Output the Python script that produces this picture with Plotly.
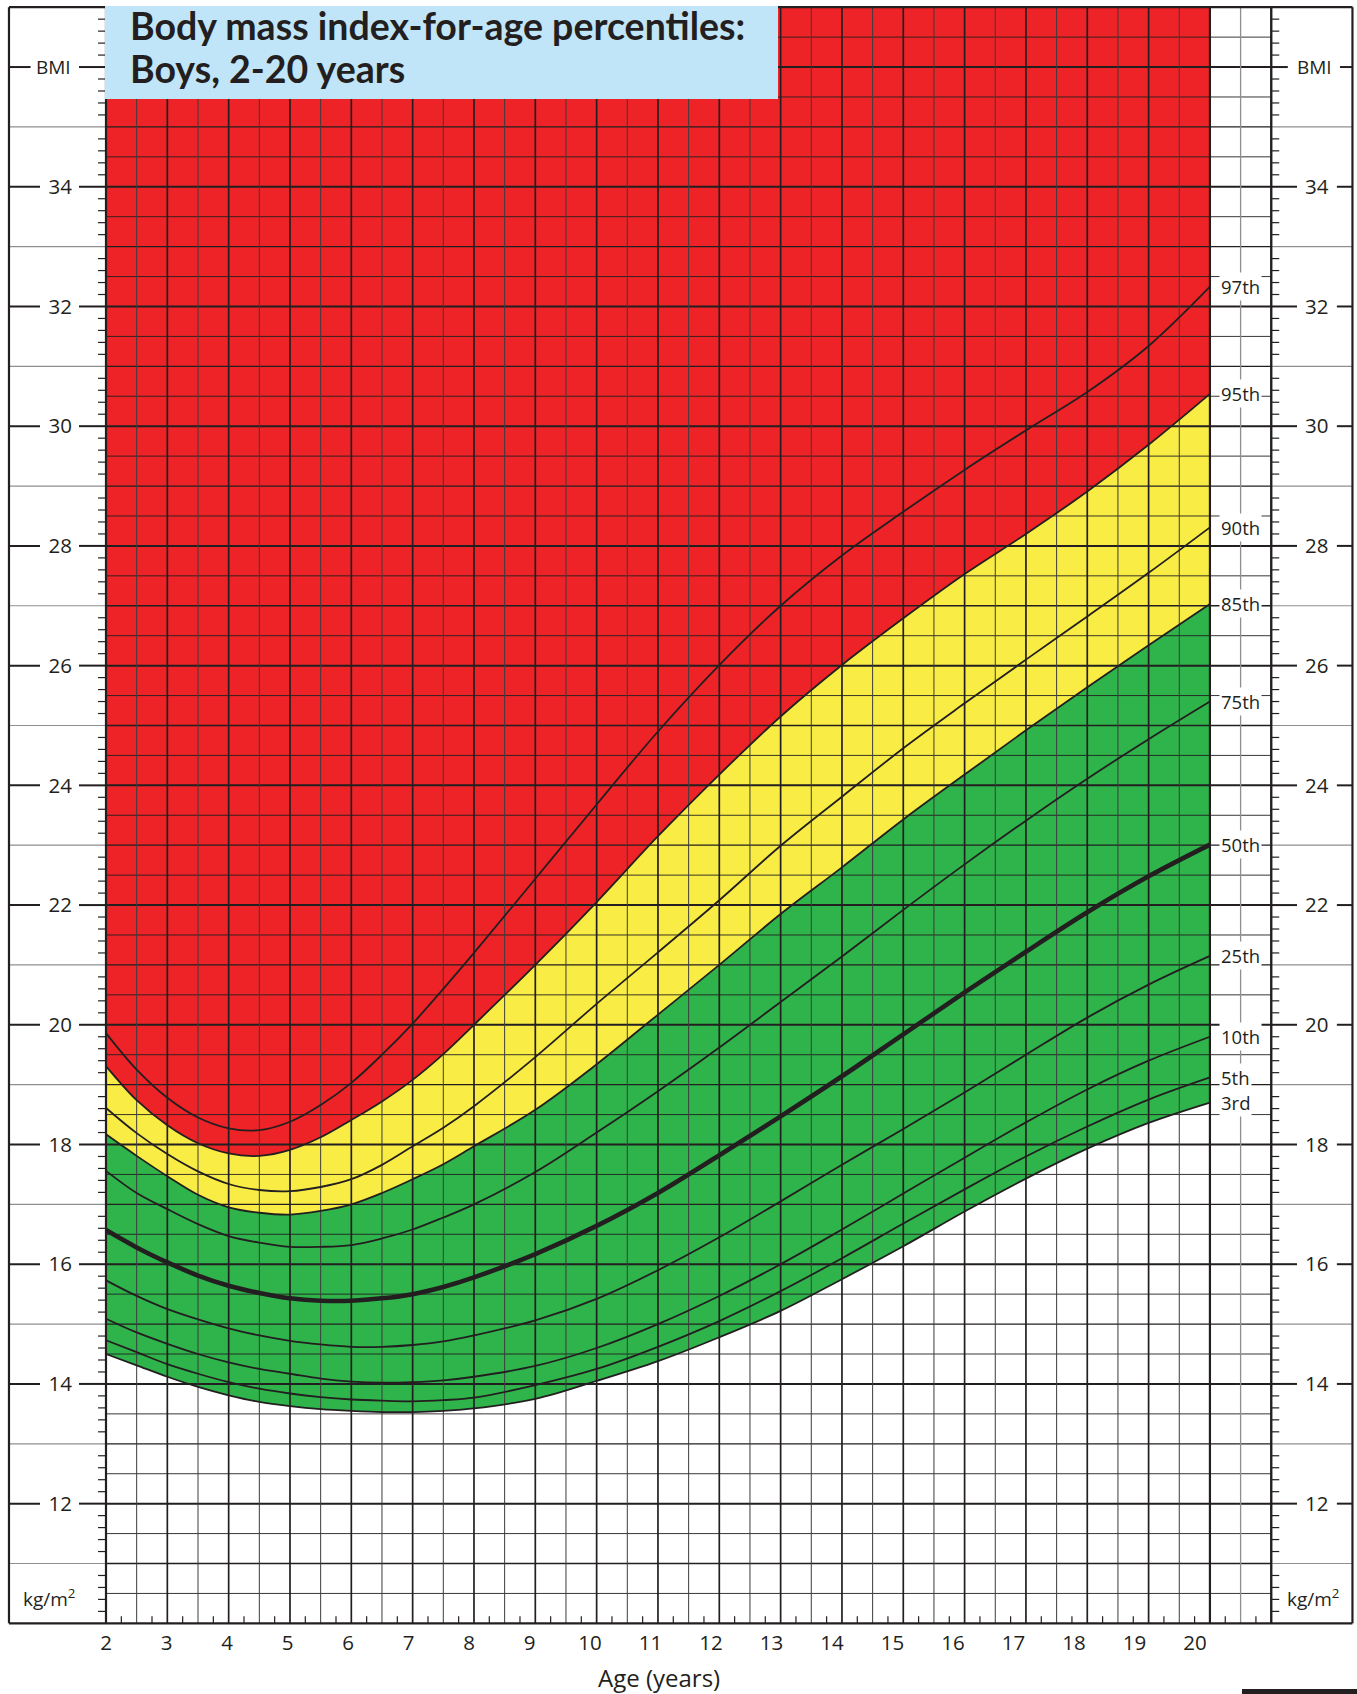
import plotly.graph_objects as go

# ---------------- data ----------------
ages = [2, 2.5, 3, 3.5, 4, 4.5, 5, 5.5, 6, 6.5, 7, 7.5, 8,
        9, 10, 11, 12, 13, 14, 15, 16, 17, 18, 19, 20]

p97 = [19.86, 19.25, 18.78, 18.45, 18.27, 18.24, 18.38, 18.66, 19.03, 19.50, 20.02, 20.60, 21.20,
       22.44, 23.68, 24.90, 26.01, 27.00, 27.84, 28.57, 29.27, 29.93, 30.57, 31.34, 32.33]
p95 = [19.31, 18.74, 18.32, 18.02, 17.85, 17.81, 17.91, 18.12, 18.41, 18.72, 19.08, 19.51, 20.00,
       21.00, 22.05, 23.15, 24.18, 25.15, 26.01, 26.79, 27.53, 28.20, 28.91, 29.69, 30.54]
p90 = [18.61, 18.19, 17.84, 17.55, 17.34, 17.24, 17.22, 17.29, 17.42, 17.66, 17.97, 18.28, 18.64,
       19.46, 20.35, 21.21, 22.08, 22.99, 23.81, 24.62, 25.37, 26.10, 26.82, 27.55, 28.31]
p85 = [18.17, 17.81, 17.47, 17.16, 16.95, 16.86, 16.83, 16.89, 17.00, 17.19, 17.42, 17.67, 17.97,
       18.58, 19.34, 20.17, 21.00, 21.85, 22.63, 23.43, 24.18, 24.92, 25.64, 26.34, 27.03]
p75 = [17.56, 17.19, 16.92, 16.67, 16.47, 16.36, 16.29, 16.29, 16.32, 16.43, 16.58, 16.78, 17.00,
       17.54, 18.20, 18.89, 19.62, 20.38, 21.14, 21.92, 22.68, 23.41, 24.11, 24.77, 25.40]
p50 = [16.57, 16.28, 16.03, 15.81, 15.64, 15.52, 15.43, 15.39, 15.39, 15.43, 15.50, 15.62, 15.78,
       16.17, 16.64, 17.19, 17.82, 18.47, 19.14, 19.84, 20.54, 21.22, 21.88, 22.48, 23.01]
p25 = [15.73, 15.47, 15.25, 15.08, 14.93, 14.81, 14.72, 14.66, 14.62, 14.62, 14.65, 14.71, 14.81,
       15.06, 15.42, 15.90, 16.45, 17.05, 17.66, 18.26, 18.87, 19.50, 20.12, 20.67, 21.15]
p10 = [15.09, 14.86, 14.67, 14.50, 14.36, 14.25, 14.17, 14.09, 14.04, 14.02, 14.03, 14.06, 14.12,
       14.30, 14.60, 15.00, 15.47, 16.00, 16.58, 17.18, 17.78, 18.37, 18.92, 19.40, 19.80]
p5 = [14.73, 14.53, 14.33, 14.17, 14.03, 13.92, 13.84, 13.78, 13.74, 13.72, 13.71, 13.73, 13.77,
      13.98, 14.25, 14.62, 15.05, 15.55, 16.10, 16.68, 17.25, 17.80, 18.30, 18.75, 19.12]
p3 = [14.50, 14.31, 14.12, 13.95, 13.81, 13.70, 13.63, 13.58, 13.55, 13.53, 13.53, 13.55, 13.59,
      13.75, 14.05, 14.38, 14.78, 15.22, 15.75, 16.30, 16.88, 17.43, 17.93, 18.36, 18.70]

percentile_labels = ["3rd", "5th", "10th", "25th", "50th", "75th", "85th", "90th", "95th", "97th"]
percentile_series = [p3, p5, p10, p25, p50, p75, p85, p90, p95, p97]

bmi_tick_vals = [12, 14, 16, 18, 20, 22, 24, 26, 28, 30, 32, 34]
bmi_tick_text = [str(v) for v in bmi_tick_vals]
age_tick_vals = list(range(2, 21))
age_tick_text = [str(a) for a in age_tick_vals]
unit_label_bmi = 36

title_lines = ["Body mass index-for-age percentiles:", "Boys, 2-20 years"]

# ---------------- styling / layout constants ----------------
RED, YELLOW, GREEN = "#ED2327", "#F8EC45", "#2FB34B"
BLUE = "#C1E5F8"
INK = "#231F20"
GRAY = "#8F8F8F"
W, H = 1357, 1694

X_MIN, X_MAX = 0.2716, 22.398      # main age axis (grid)
X2_MIN, X2_MAX = 0.248, 22.678     # age tick-label axis
Y_MIN, Y_MAX = 8.82, 37.12

BMI_BOT, BMI_TOP = 10, 37
FRAME_L, FRAME_R = 0.418, 22.324
GRID_L, GRID_R, AXIS_R = ages[0], ages[-1], 21
SMOOTH = 1.0

fig = go.Figure()

# ---------------- coloured zones ----------------
spl = dict(shape="spline", smoothing=SMOOTH, width=0)
fig.add_trace(go.Scatter(x=ages, y=p3, mode="lines", line=dict(spl, color=GREEN),
                         hoverinfo="skip", showlegend=False))
fig.add_trace(go.Scatter(x=ages, y=p85, mode="lines", line=dict(spl, color=GREEN), fill="tonexty",
                         fillcolor=GREEN, hoverinfo="skip", showlegend=False))
fig.add_trace(go.Scatter(x=ages, y=p95, mode="lines", line=dict(spl, color=YELLOW), fill="tonexty",
                         fillcolor=YELLOW, hoverinfo="skip", showlegend=False))
fig.add_trace(go.Scatter(x=ages, y=[BMI_TOP] * len(ages), mode="lines", line=dict(width=0, color=RED),
                         fill="tonexty", fillcolor=RED, hoverinfo="skip", showlegend=False))


def add_segments(segs, color, width):
    xs, ys = [], []
    for x0, y0, x1, y1 in segs:
        xs += [x0, x1, None]
        ys += [y0, y1, None]
    fig.add_trace(go.Scatter(x=xs, y=ys, mode="lines", line=dict(color=color, width=width),
                             hoverinfo="skip", showlegend=False))


# ---------------- grid ----------------
halves = [BMI_BOT + 0.5 * k for k in range(1, int((BMI_TOP - BMI_BOT) * 2) + 1)]
even_h = [b for b in halves if b == int(b) and int(b) % 2 == 0]
odd_h = [b for b in halves if b == int(b) and int(b) % 2 == 1]
half_h = [b for b in halves if b != int(b)]

add_segments([(GRID_L, b, AXIS_R, b) for b in half_h], INK, 0.9)
add_segments([(GRID_L, b, AXIS_R, b) for b in odd_h], INK, 1.3)
add_segments([(GRID_L, b, AXIS_R, b) for b in even_h], INK, 2.0)

age_lines = [GRID_L + 0.5 * k for k in range(0, int((AXIS_R - GRID_L) * 2) + 1)]
add_segments([(a, BMI_BOT, a, BMI_TOP) for a in age_lines if a != int(a) and a < GRID_R], "#3C3C3C", 1.0)
add_segments([(a, BMI_BOT, a, BMI_TOP) for a in age_lines if a != int(a) and a > GRID_R], GRAY, 1.3)
add_segments([(a, BMI_BOT, a, BMI_TOP) for a in age_lines if a == int(a)], INK, 1.7)

# margins: odd BMI thin gray lines, even BMI lines with gaps for labels
add_segments([(FRAME_L, b, GRID_L, b) for b in odd_h] +
             [(AXIS_R, b, FRAME_R, b) for b in odd_h], GRAY, 1.2)
segs = []
for b in even_h:
    if b in bmi_tick_vals or b == unit_label_bmi:
        lg = 0.77 if b == unit_label_bmi else 0.924
        rg0, rg1 = (21.27, 22.12) if b == unit_label_bmi else (21.42, 22.07)
        segs += [(FRAME_L, b, lg, b), (1.56, b, GRID_L, b), (AXIS_R, b, rg0, b), (rg1, b, FRAME_R, b)]
    else:
        segs += [(FRAME_L, b, GRID_L, b), (AXIS_R, b, FRAME_R, b)]
add_segments(segs, INK, 2.0)

# minor ticks every 0.2 BMI
minor = [round(BMI_BOT + 0.2 * k, 1) for k in range(1, int((BMI_TOP - BMI_BOT) * 5))]
minor = [m for m in minor if abs(m - round(m)) > 1e-6]
add_segments([(GRID_L - 0.13, m, GRID_L, m) for m in minor] +
             [(AXIS_R, m, AXIS_R + 0.13, m) for m in minor], INK, 1.2)
# quarter-year ticks along the bottom
quarters = [GRID_L + 0.25 + 0.5 * k for k in range(int((AXIS_R - GRID_L) * 2))]
add_segments([(q, BMI_BOT, q, BMI_BOT + 0.117) for q in quarters], INK, 1.2)

# outer frame
add_segments([(FRAME_L, BMI_BOT, FRAME_R, BMI_BOT), (FRAME_L, BMI_BOT, FRAME_L, BMI_TOP),
              (FRAME_R, BMI_BOT, FRAME_R, BMI_TOP), (FRAME_L, BMI_TOP, FRAME_R, BMI_TOP),
              (GRID_L, BMI_BOT, GRID_L, BMI_TOP), (GRID_R, BMI_BOT, GRID_R, BMI_TOP),
              (AXIS_R, BMI_BOT, AXIS_R, BMI_TOP)], INK, 2.2)

# ---------------- percentile curves ----------------
for name, ser in zip(percentile_labels, percentile_series):
    wd = 4.6 if name == "50th" else 1.8
    fig.add_trace(go.Scatter(x=ages, y=ser, mode="lines", name=name,
                             line=dict(color=INK, width=wd, shape="spline", smoothing=SMOOTH),
                             hoverinfo="skip", showlegend=False))
    fig.add_annotation(x=ages[-1] + 0.14, y=ser[-1], xref="x", yref="y", text=name,
                       showarrow=False, xanchor="left", yanchor="middle", bgcolor="white",
                       borderpad=1, font=dict(family="Open Sans", size=18.5, color=INK))

# helper traces so the overlay axes are drawn
fig.add_trace(go.Scatter(x=[None], y=[None], xaxis="x2", yaxis="y", showlegend=False, hoverinfo="skip"))
fig.add_trace(go.Scatter(x=[None], y=[None], xaxis="x", yaxis="y2", showlegend=False, hoverinfo="skip"))

# ---------------- title box ----------------
fig.add_shape(type="rect", xref="paper", yref="paper", x0=105 / W, x1=778 / W, y0=1 - 99 / H,
              y1=1 - 6 / H, fillcolor=BLUE, line=dict(width=0), layer="above")
for i, t in enumerate(title_lines):
    fig.add_annotation(x=128 / W, y=1 - (25 + 43.5 * i) / H, xref="paper", yref="paper",
                       text="<b>%s</b>" % t, showarrow=False, xanchor="left", yanchor="middle",
                       font=dict(family="Lato", size=37.5, color=INK))

# small logo strip at bottom-right corner
fig.add_shape(type="rect", xref="paper", yref="paper", x0=1242 / W, x1=1.0, y0=0, y1=5 / H,
              fillcolor=INK, line=dict(width=0), layer="above")

# unit labels and axis title
for xpx in (54, 1314):
    fig.add_annotation(x=xpx / W, y=unit_label_bmi, xref="paper", yref="y", text="BMI",
                       showarrow=False, xanchor="center", yanchor="middle",
                       font=dict(family="Open Sans", size=19, color=INK))
for xpx in (49, 1313):
    fig.add_annotation(x=xpx / W, y=10.42, xref="paper", yref="y", text="kg/m<sup>2</sup>",
                       showarrow=False, xanchor="center", yanchor="middle",
                       font=dict(family="Open Sans", size=19, color=INK))
fig.add_annotation(x=659 / W, y=1 - 1677 / H, xref="paper", yref="paper", text="Age (years)",
                   showarrow=False, xanchor="center", yanchor="middle",
                   font=dict(family="Open Sans", size=24, color=INK))

tickfont = dict(family="Open Sans", size=20.5, color=INK)
fig.update_layout(
    width=W, height=H, margin=dict(l=0, r=0, t=0, b=0),
    paper_bgcolor="white", plot_bgcolor="white", showlegend=False,
    xaxis=dict(range=[X_MIN, X_MAX], domain=[0, 1], visible=False, fixedrange=True),
    yaxis=dict(range=[Y_MIN, Y_MAX], domain=[0, 1], anchor="free", position=74 / W,
               tickvals=bmi_tick_vals, ticktext=bmi_tick_text, ticks="", showgrid=False,
               zeroline=False, showline=False, tickfont=tickfont, ticklabelstandoff=2),
    xaxis2=dict(range=[X2_MIN, X2_MAX], overlaying="x", anchor="free", position=1 - 1624 / H,
                side="bottom", tickvals=age_tick_vals, ticktext=age_tick_text, ticks="",
                showgrid=False, zeroline=False, showline=False, tickfont=tickfont, ticklabelstandoff=4),
    yaxis2=dict(range=[Y_MIN, Y_MAX], overlaying="y", side="right", anchor="free", position=1302 / W,
                tickvals=bmi_tick_vals, ticktext=bmi_tick_text, ticks="", showgrid=False,
                zeroline=False, showline=False, tickfont=tickfont, ticklabelstandoff=2),
)

fig.write_html("out.html", config={"displayModeBar": False},
               post_script="document.body.style.margin='0';document.body.style.overflow='hidden';")
